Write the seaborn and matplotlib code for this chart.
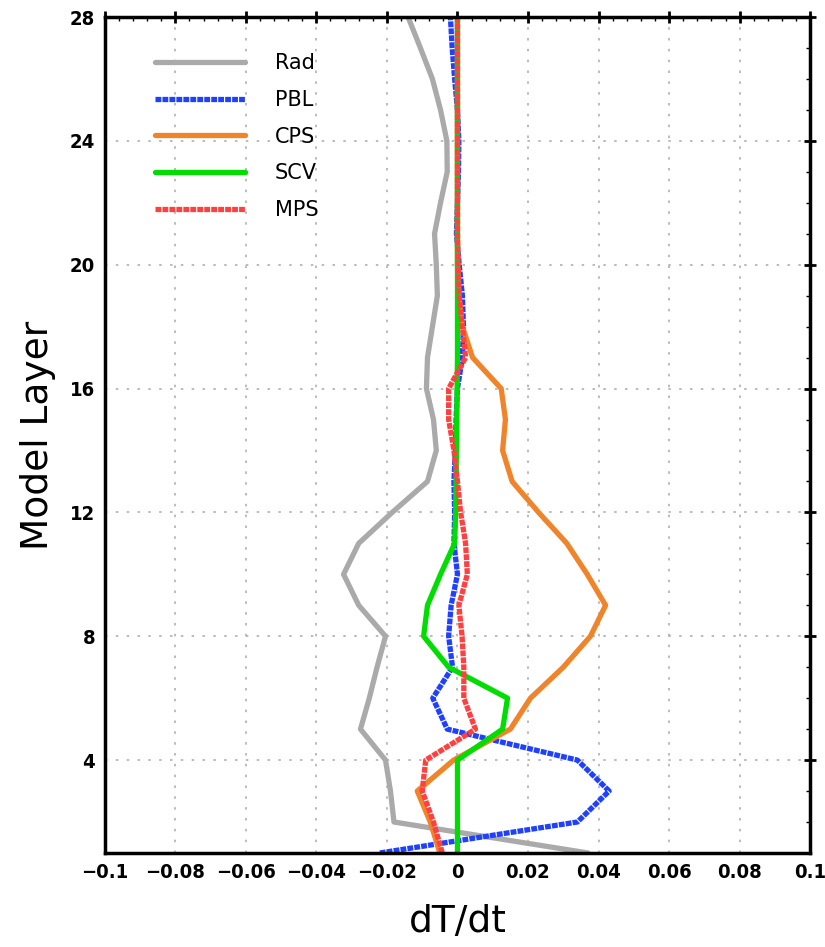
import numpy as np
import pandas as pd
import matplotlib
matplotlib.use('Agg')
import matplotlib.pyplot as plt
from matplotlib.ticker import MultipleLocator, FixedLocator
import seaborn as sns

# Capas del modelo (1..28)
layers = list(range(1, 29))

rad = [0.037, -0.018, -0.019, -0.0204, -0.0275, -0.025, -0.0228, -0.0204, -0.028, -0.0323,
       -0.028, -0.0185, -0.0085, -0.006, -0.0068, -0.0088, -0.0085, -0.0071, -0.0057, -0.006,
       -0.0065, -0.0048, -0.0029, -0.003, -0.0048, -0.0071, -0.0105, -0.014]
pbl = [-0.022, 0.034, 0.043, 0.034, -0.0029, -0.007, -0.0014, -0.0025, -0.0018, 0.0,
       -0.001, -0.0008, -0.001, -0.0006, -0.0004, 0.0, 0.0014, 0.0017, 0.0014, 0.0005,
       -0.0003, 0.0, 0.0003, 0.0004, 0.0, -0.0008, -0.0015, -0.002]
cps = [-0.005, -0.0077, -0.0114, -0.0011, 0.015, 0.0207, 0.030, 0.0377, 0.042, 0.0368,
       0.031, 0.023, 0.0155, 0.0128, 0.0136, 0.0124, 0.0043, 0.0014, 0.0004, 0.0,
       0.0, 0.0, 0.0, 0.0, 0.0, 0.0, 0.0, 0.0]
scv = [0.0, 0.0, 0.0, 0.0, 0.0128, 0.0142, -0.0025, -0.0096, -0.0085, -0.0048,
       -0.0008, -0.0005, -0.0004, -0.0003, -0.0002, -0.0001, 0.0, 0.0, 0.0, 0.0,
       0.0, 0.0, 0.0, 0.0, 0.0, 0.0, 0.0, 0.0]
mps = [-0.0043, -0.0068, -0.010, -0.009, 0.0051, 0.0018, 0.0018, 0.0013, 0.0004, 0.0028,
       0.0023, 0.0009, 0.0, -0.001, -0.0025, -0.0025, 0.0023, 0.0014, 0.0005, 0.0002,
       0.0, 0.0, 0.0, 0.0, 0.0, 0.0, 0.0, 0.0]

series = ['Rad', 'PBL', 'CPS', 'SCV', 'MPS']
values = [rad, pbl, cps, scv, mps]
colors = ['#aaaaaa', '#2040ff', '#f0842a', '#00dd00', '#ff4040']
dashed = [False, True, False, False, True]

x_ticks = [-0.1, -0.08, -0.06, -0.04, -0.02, 0, 0.02, 0.04, 0.06, 0.08, 0.1]
x_labels = ['\u22120.1', '\u22120.08', '\u22120.06', '\u22120.04', '\u22120.02', '0',
            '0.02', '0.04', '0.06', '0.08', '0.1']
y_ticks = [4, 8, 12, 16, 20, 24, 28]

sns.set_style('white')
plt.rcParams['font.family'] = ['DejaVu Sans']
plt.rcParams['text.color'] = 'black'

fig = plt.figure(figsize=(8.25, 9.47), dpi=100)
ax = fig.add_axes([0.127, 0.0993, 0.855, 0.8827])

for nombre, vals, color, dash in zip(series, values, colors, dashed):
    df = pd.DataFrame({'x': vals, 'y': layers})
    kw = dict(linestyle=(0, (1.1, 0.22)), dash_capstyle='butt') if dash else dict(solid_capstyle='round')
    sns.lineplot(data=df, x='x', y='y', sort=False, estimator=None, ax=ax,
                 color=color, linewidth=3.8, label=nombre, **kw)

ax.set_xlim(-0.1, 0.1)
ax.set_ylim(1, 28)
ax.xaxis.set_major_locator(FixedLocator(x_ticks))
ax.set_xticklabels(x_labels, fontsize=14.5, fontweight='bold', color='black',
                   fontstretch='condensed')
ax.yaxis.set_major_locator(FixedLocator(y_ticks))
ax.set_yticklabels([str(v) for v in y_ticks], fontsize=14.5, fontweight='bold',
                   color='black', fontstretch='condensed')
ax.xaxis.set_minor_locator(MultipleLocator(0.004))
ax.yaxis.set_minor_locator(MultipleLocator(1))
ax.tick_params(which='major', direction='inout', length=8, width=2, color='black',
               top=True, right=True, pad=3)
ax.tick_params(which='minor', direction='in', length=3, width=1, color='black',
               top=True, right=True)
ax.grid(True, which='major', color='#b0b0b0', linestyle=(0, (1.5, 5)), linewidth=1.2)

for s in ax.spines.values():
    s.set_linewidth(2.5)
    s.set_color('black')

ax.set_xlabel('dT/dt', fontsize=27, labelpad=16, color='black')
ax.set_ylabel('Model Layer', fontsize=27, labelpad=10, color='black')

leg = ax.legend(loc='upper left', bbox_to_anchor=(0.045, 0.979), frameon=False,
                fontsize=15, handlelength=4.3, handletextpad=1.45, labelspacing=0.8)
for h in leg.get_lines():
    h.set_linewidth(3.8)

fig.savefig('out.png', dpi=100)
